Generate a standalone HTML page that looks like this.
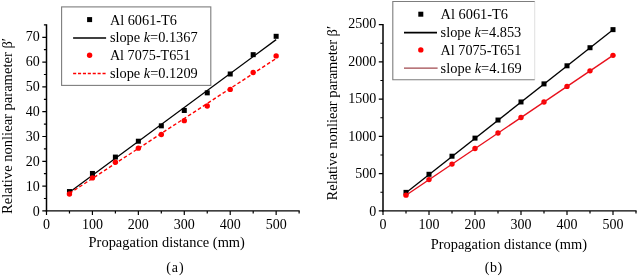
<!DOCTYPE html>
<html><head><meta charset="utf-8"><title>Figure</title>
<style>
html,body{margin:0;padding:0;background:#fff;}
body{width:637px;height:276px;overflow:hidden;}
svg{display:block;will-change:transform;filter:blur(0.35px);}
text{font-family:"Liberation Serif",serif;font-size:14px;fill:#000;}
</style></head><body>
<svg width="637" height="276" viewBox="0 0 637 276">
<rect width="637" height="276" fill="#fff"/>
<g>
<path d="M46.50 24.30V211.55" fill="none" stroke="#000" stroke-width="1.5"/>
<path d="M45.75 210.90H299.72" fill="none" stroke="#000" stroke-width="1.3"/>
<path d="M46.50 210.90v4M69.47 210.90v2.6M92.43 210.90v4M115.39 210.90v2.6M138.36 210.90v4M161.32 210.90v2.6M184.29 210.90v4M207.25 210.90v2.6M230.22 210.90v4M253.19 210.90v2.6M276.15 210.90v4M299.12 210.90v2.6M46.50 210.90h-4.2M46.50 198.50h-2.6M46.50 186.10h-4.2M46.50 173.70h-2.6M46.50 161.30h-4.2M46.50 148.90h-2.6M46.50 136.50h-4.2M46.50 124.10h-2.6M46.50 111.70h-4.2M46.50 99.30h-2.6M46.50 86.90h-4.2M46.50 74.50h-2.6M46.50 62.10h-4.2M46.50 49.70h-2.6M46.50 37.30h-4.2M46.50 24.90h-2.6" fill="none" stroke="#000" stroke-width="1.2"/>
<text x="46.50" y="228.80" text-anchor="middle">0</text>
<text x="92.43" y="228.80" text-anchor="middle">100</text>
<text x="138.36" y="228.80" text-anchor="middle">200</text>
<text x="184.29" y="228.80" text-anchor="middle">300</text>
<text x="230.22" y="228.80" text-anchor="middle">400</text>
<text x="276.15" y="228.80" text-anchor="middle">500</text>
<text x="39.80" y="215.60" text-anchor="end">0</text>
<text x="39.80" y="190.61" text-anchor="end">10</text>
<text x="39.80" y="165.63" text-anchor="end">20</text>
<text x="39.80" y="140.64" text-anchor="end">30</text>
<text x="39.80" y="115.66" text-anchor="end">40</text>
<text x="39.80" y="90.67" text-anchor="end">50</text>
<text x="39.80" y="65.69" text-anchor="end">60</text>
<text x="39.80" y="40.70" text-anchor="end">70</text>
<text transform="translate(11.50 213.9) rotate(-90)" x="0" y="0" font-size="14.5" textLength="175.9" lengthAdjust="spacingAndGlyphs">Relative nonliear parameter β′</text>
<text x="88.60" y="247.2" font-size="14.4" textLength="156.3" lengthAdjust="spacingAndGlyphs">Propagation distance (mm)</text>
<text x="166.15" y="271.6" font-size="16.6">(</text><text x="174.85" y="271.6" text-anchor="middle" font-size="15.8">a</text><text x="183.55" y="271.6" text-anchor="end" font-size="16.6">)</text>
<rect x="66.97" y="189.06" width="5" height="5" fill="#000"/>
<rect x="89.93" y="170.95" width="5" height="5" fill="#000"/>
<rect x="112.89" y="154.58" width="5" height="5" fill="#000"/>
<rect x="135.86" y="138.71" width="5" height="5" fill="#000"/>
<rect x="158.82" y="123.34" width="5" height="5" fill="#000"/>
<rect x="181.79" y="107.96" width="5" height="5" fill="#000"/>
<rect x="204.75" y="90.35" width="5" height="5" fill="#000"/>
<rect x="227.72" y="71.50" width="5" height="5" fill="#000"/>
<rect x="250.69" y="52.16" width="5" height="5" fill="#000"/>
<rect x="273.65" y="33.81" width="5" height="5" fill="#000"/>
<path d="M69.47 192.18L276.15 39.61" stroke="#000" stroke-width="1.3" fill="none"/>
<circle cx="69.47" cy="194.04" r="2.7" fill="#f00"/>
<circle cx="92.43" cy="177.92" r="2.7" fill="#f00"/>
<circle cx="115.39" cy="162.29" r="2.7" fill="#f00"/>
<circle cx="138.36" cy="148.16" r="2.7" fill="#f00"/>
<circle cx="161.32" cy="134.52" r="2.7" fill="#f00"/>
<circle cx="184.29" cy="120.63" r="2.7" fill="#f00"/>
<circle cx="207.25" cy="106.00" r="2.7" fill="#f00"/>
<circle cx="230.22" cy="89.38" r="2.7" fill="#f00"/>
<circle cx="253.19" cy="72.52" r="2.7" fill="#f00"/>
<circle cx="276.15" cy="55.90" r="2.7" fill="#f00"/>
<path d="M69.47 193.42L276.15 58.50" stroke="#f00" stroke-width="1.4" fill="none" stroke-dasharray="3.6 2.3"/>
<rect x="61.6" y="6.9" width="149.20000000000002" height="78.5" fill="#fff" stroke="#7d7d7d" stroke-width="1.1"/>
<rect x="87.10" y="17.10" width="5" height="5" fill="#000"/>
<text x="109.90" y="24.70" font-size="14.3" textLength="67.0" lengthAdjust="spacingAndGlyphs">Al 6061-T6</text>
<path d="M73.10 38.00h33" stroke="#000" stroke-width="1.7"/>
<text x="109.90" y="42.00" font-size="14.3" textLength="87.7" lengthAdjust="spacingAndGlyphs">slope <tspan font-style="italic">k</tspan>=0.1367</text>
<circle cx="89.60" cy="55.30" r="2.7" fill="#f00"/>
<text x="109.90" y="60.00" font-size="14.3" textLength="80.6" lengthAdjust="spacingAndGlyphs">Al 7075-T651</text>
<path d="M73.10 73.50h33.6" stroke="#f00" stroke-width="1.3" stroke-dasharray="3.1 1.8"/>
<text x="109.90" y="78.00" font-size="14.3" textLength="87.9" lengthAdjust="spacingAndGlyphs">slope <tspan font-style="italic">k</tspan>=0.1209</text>
</g>
<g>
<path d="M383.00 24.00V211.55" fill="none" stroke="#000" stroke-width="1.5"/>
<path d="M382.25 210.90H636.60" fill="none" stroke="#000" stroke-width="1.3"/>
<path d="M383.00 210.90v4M406.00 210.90v2.6M429.00 210.90v4M452.00 210.90v2.6M475.00 210.90v4M498.00 210.90v2.6M521.00 210.90v4M544.00 210.90v2.6M567.00 210.90v4M590.00 210.90v2.6M613.00 210.90v4M636.00 210.90v2.6M383.00 210.90h-4.2M383.00 192.27h-2.6M383.00 173.64h-4.2M383.00 155.01h-2.6M383.00 136.38h-4.2M383.00 117.75h-2.6M383.00 99.12h-4.2M383.00 80.49h-2.6M383.00 61.86h-4.2M383.00 43.23h-2.6M383.00 24.60h-4.2" fill="none" stroke="#000" stroke-width="1.2"/>
<text x="383.00" y="228.80" text-anchor="middle">0</text>
<text x="429.00" y="228.80" text-anchor="middle">100</text>
<text x="475.00" y="228.80" text-anchor="middle">200</text>
<text x="521.00" y="228.80" text-anchor="middle">300</text>
<text x="567.00" y="228.80" text-anchor="middle">400</text>
<text x="613.00" y="228.80" text-anchor="middle">500</text>
<text x="376.30" y="215.60" text-anchor="end">0</text>
<text x="376.30" y="178.08" text-anchor="end">500</text>
<text x="376.30" y="140.56" text-anchor="end">1000</text>
<text x="376.30" y="103.04" text-anchor="end">1500</text>
<text x="376.30" y="65.52" text-anchor="end">2000</text>
<text x="376.30" y="28.00" text-anchor="end">2500</text>
<text transform="translate(337.40 200.4) rotate(-90)" x="0" y="0" font-size="14.5" textLength="174.5" lengthAdjust="spacingAndGlyphs">Relative nonliear parameter β′</text>
<text x="430.70" y="249.4" font-size="14.4" textLength="156.3" lengthAdjust="spacingAndGlyphs">Propagation distance (mm)</text>
<text x="484.80" y="271.6" font-size="16.6">(</text><text x="493.50" y="271.6" text-anchor="middle" font-size="15.8">b</text><text x="502.20" y="271.6" text-anchor="end" font-size="16.6">)</text>
<rect x="403.50" y="189.87" width="5" height="5" fill="#000"/>
<rect x="426.50" y="171.79" width="5" height="5" fill="#000"/>
<rect x="449.50" y="153.71" width="5" height="5" fill="#000"/>
<rect x="472.50" y="135.62" width="5" height="5" fill="#000"/>
<rect x="495.50" y="117.54" width="5" height="5" fill="#000"/>
<rect x="518.50" y="99.46" width="5" height="5" fill="#000"/>
<rect x="541.50" y="81.38" width="5" height="5" fill="#000"/>
<rect x="564.50" y="63.29" width="5" height="5" fill="#000"/>
<rect x="587.50" y="45.21" width="5" height="5" fill="#000"/>
<rect x="610.50" y="27.13" width="5" height="5" fill="#000"/>
<path d="M406.00 192.67L613.00 29.78" stroke="#000" stroke-width="1.3" fill="none"/>
<circle cx="406.00" cy="195.14" r="2.7" fill="#f00"/>
<circle cx="429.00" cy="179.61" r="2.7" fill="#f00"/>
<circle cx="452.00" cy="164.08" r="2.7" fill="#f00"/>
<circle cx="475.00" cy="148.54" r="2.7" fill="#f00"/>
<circle cx="498.00" cy="133.01" r="2.7" fill="#f00"/>
<circle cx="521.00" cy="117.47" r="2.7" fill="#f00"/>
<circle cx="544.00" cy="101.94" r="2.7" fill="#f00"/>
<circle cx="567.00" cy="86.41" r="2.7" fill="#f00"/>
<circle cx="590.00" cy="70.87" r="2.7" fill="#f00"/>
<circle cx="613.00" cy="55.34" r="2.7" fill="#f00"/>
<path d="M406.00 195.22L613.00 55.41" stroke="#e8101c" stroke-width="1.4" fill="none"/>
<rect x="392.8" y="1.5" width="141.90000000000003" height="78.2" fill="#fff"/>
<path d="M534.7 1.5V79.7" fill="none" stroke="#e2e2e2" stroke-width="1.1"/>
<path d="M534.7 1.5H392.8V79.7H534.7" fill="none" stroke="#7d7d7d" stroke-width="1.1"/>
<rect x="418.30" y="11.70" width="5" height="5" fill="#000"/>
<text x="440.60" y="19.30" font-size="14.3" textLength="67.4" lengthAdjust="spacingAndGlyphs">Al 6061-T6</text>
<path d="M404.00 32.60h33" stroke="#000" stroke-width="1.7"/>
<text x="440.60" y="36.60" font-size="14.3" textLength="80.7" lengthAdjust="spacingAndGlyphs">slope <tspan font-style="italic">k</tspan>=4.853</text>
<circle cx="420.80" cy="49.90" r="2.7" fill="#f00"/>
<text x="440.60" y="54.60" font-size="14.3" textLength="80.7" lengthAdjust="spacingAndGlyphs">Al 7075-T651</text>
<path d="M404.00 68.10h33.6" stroke="#a0484e" stroke-width="1.3"/>
<text x="440.60" y="72.60" font-size="14.3" textLength="81.1" lengthAdjust="spacingAndGlyphs">slope <tspan font-style="italic">k</tspan>=4.169</text>
</g>
</svg>
</body></html>
